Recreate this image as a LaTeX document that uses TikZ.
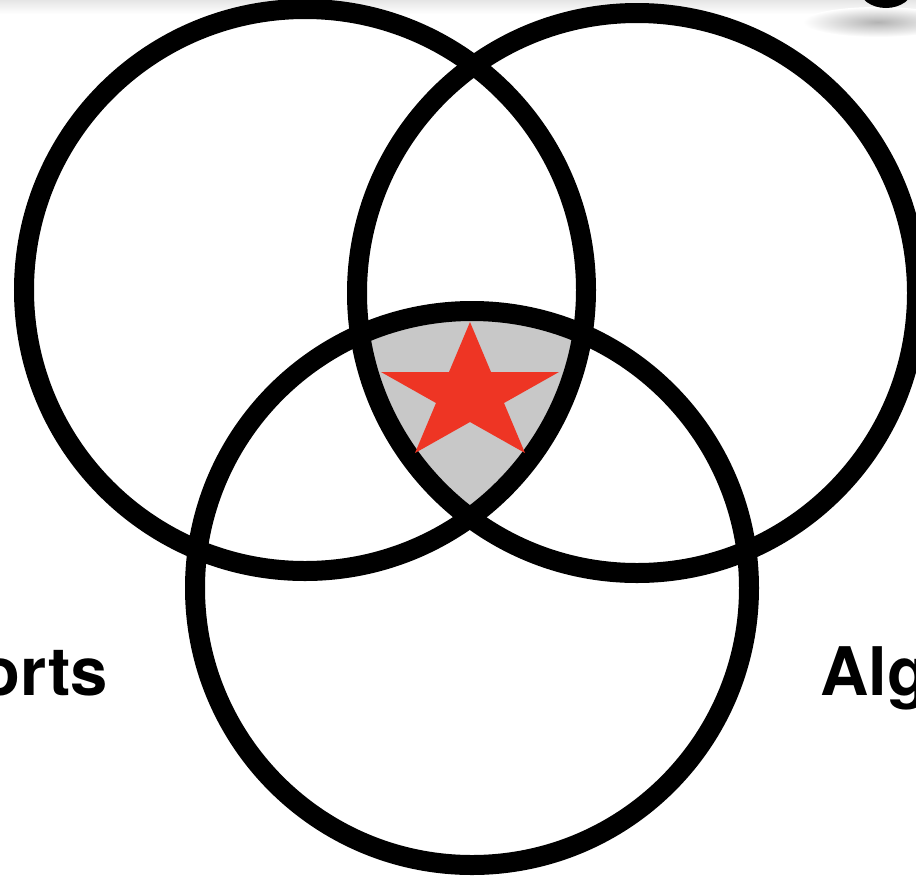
\documentclass[tikz,border=0pt]{standalone}
\usepackage{fontspec}
\newfontfamily\labelfont{TeX Gyre Heros}
\usepackage{xcolor}
\definecolor{starred}{RGB}{238,53,36}
\definecolor{coregray}{RGB}{200,200,200}
\usetikzlibrary{shapes.geometric}

\begin{document}
\begin{tikzpicture}[x=1pt, y=-1pt,
		ring/.style={draw=black, line width=20pt},
		setlabel/.style={font=\labelfont\bfseries\fontsize{67}{67}\selectfont, inner sep=0pt}]
			\useasboundingbox (0,0) rectangle (916,876);
			\clip (0,0) rectangle (916,876);
			
			% faint shadow along the top edge
			\shade[top color=black!10, bottom color=white] (0,0) rectangle (916,14);
			\shade[inner color=black!30, outer color=white] (878,22) ellipse (75 and 15);
			\fill[black] (886,-12) ellipse (27 and 20);
			
			\coordinate (cl) at (305,290);
			\coordinate (cr) at (637,293);
			\coordinate (cb) at (472,588);
			
			% common part of the three sets
			\begin{scope}
				\clip (cl) circle (281);
				\clip (cr) circle (280);
				\fill[coregray] (cb) circle (277);
			\end{scope}
			
			\draw[ring] (cl) circle (281);
			\draw[ring] (cr) circle (280);
			\draw[ring] (cb) circle (277);
			
			\fill[starred] (470,322) -- (491,372) -- (559,372) -- (504,403) -- (525,453)
				-- (470,422) -- (415,453) -- (436,403) -- (381,372) -- (449,372) -- cycle;
			
			\node[setlabel, anchor=base east] (lefttext) at (108,695) {orts};
			\node[setlabel, anchor=base west] (righttext) at (820,695) {Alg};
		\end{tikzpicture}
\end{document}
